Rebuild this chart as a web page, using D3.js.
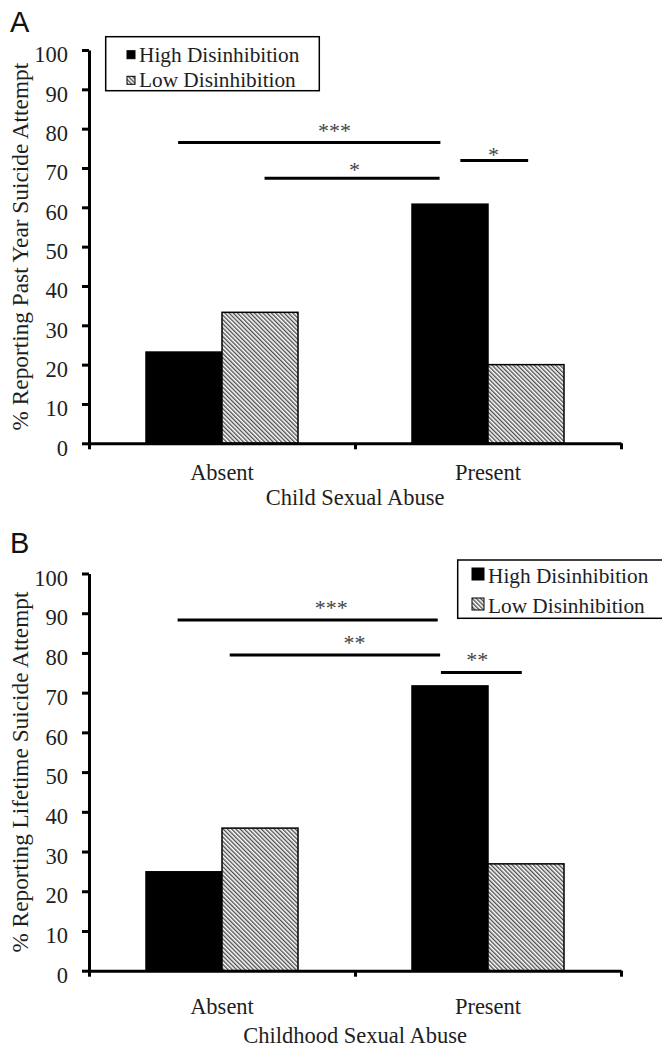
<!DOCTYPE html>
<html>
<head>
<meta charset="utf-8">
<script src="https://cdn.jsdelivr.net/npm/d3@7"></script>
<style>
  body { margin: 0; background: #fff; }
  text { font-family: "Liberation Serif", "Times New Roman", serif; fill: #1e1e1e; }
  .letter { font-family: "Liberation Sans", Arial, sans-serif; fill: #111; }
</style>
</head>
<body>
<div id="chart"></div>
<script>
"use strict";

// Categories, series and ticks.
var categories = ["Absent", "Present"];
var seriesNames = ["High Disinhibition", "Low Disinhibition"];
var yTicks = [0, 10, 20, 30, 40, 50, 60, 70, 80, 90, 100];

// Panel A: past year suicide attempt (%).
var pastYearHigh = [23.2, 60.8];
var pastYearLow = [33.3, 20.0];
// Panel B: lifetime suicide attempt (%).
var lifetimeHigh = [24.9, 71.7];
var lifetimeLow = [35.9, 26.9];

// Significance bars: from/to in category units (0..2 across the axis), at = % level.
var sigPastYear = [
    {from: 0.335, to: 1.321, at: 76.5, label: "***", lx: 0.923, ly: 80.2},
    {from: 0.660, to: 1.318, at: 67.4, label: "*", lx: 0.998, ly: 70.5},
    {from: 1.396, to: 1.651, at: 71.9, label: "*", lx: 1.521, ly: 74.1}
];
var sigLifetime = [
    {from: 0.333, to: 1.311, at: 88.3, label: "***", lx: 0.911, ly: 92.1},
    {from: 0.529, to: 1.320, at: 79.5, label: "**", lx: 0.998, ly: 83.3},
    {from: 1.323, to: 1.627, at: 75.1, label: "**", lx: 1.460, ly: 79.0}
];

var width = 662, height = 1047;
var left = 89, right = 621;
var serif = "'Liberation Serif', 'Times New Roman', serif";

var svg = d3.select("#chart").append("svg")
    .attr("width", width)
    .attr("height", height);

// Hatch pattern for the low disinhibition bars.
svg.append("defs").append("pattern")
    .attr("id", "hatch")
    .attr("patternUnits", "userSpaceOnUse")
    .attr("width", 3)
    .attr("height", 3)
    .attr("patternTransform", "rotate(-45)")
    .call(function (p) {
        p.append("rect").attr("width", 3).attr("height", 3).attr("fill", "#fff");
        p.append("line").attr("x1", 0.7).attr("y1", 0).attr("x2", 0.7).attr("y2", 3)
            .attr("stroke", "#444").attr("stroke-width", 1.3);
    });

var panels = [
    {
        letter: "A", letterY: 32, top: 50, bottom: 443.3,
        high: pastYearHigh, low: pastYearLow, sig: sigPastYear,
        yTitle: "% Reporting Past Year Suicide Attempt",
        xTitle: "Child Sexual Abuse", catDy: 37, titleDy: 62,
        legend: {x: 105.7, y: 36.7, w: 213.6, h: 54, sw: 8, tx: 139, rows: [61.7, 87.3]}
    },
    {
        letter: "B", letterY: 553, top: 573.5, bottom: 970.7,
        high: lifetimeHigh, low: lifetimeLow, sig: sigLifetime,
        yTitle: "% Reporting Lifetime Suicide Attempt",
        xTitle: "Childhood Sexual Abuse", catDy: 43, titleDy: 72,
        legend: {x: 457.7, y: 560, w: 210, h: 58.3, sw: 12, tx: 488, rows: [583, 613]}
    }
];

panels.forEach(function (p) {
    var g = svg.append("g");

    var y = d3.scaleLinear().domain([0, 100]).range([p.bottom, p.top]);
    var x0 = d3.scaleBand().domain(categories).range([left, right]).padding(0);
    var x1 = d3.scaleBand().domain(seriesNames).range([0, x0.bandwidth()])
        .paddingInner(0).paddingOuter(0.75);
    var xu = d3.scaleLinear().domain([0, 2]).range([left, right]);

    // Panel letter.
    g.append("text").attr("class", "letter")
        .attr("x", 10).attr("y", p.letterY)
        .attr("font-size", 29)
        .text(p.letter);

    // Bars.
    var rows = categories.map(function (c, i) {
        return [
            {cat: c, s: seriesNames[0], v: p.high[i]},
            {cat: c, s: seriesNames[1], v: p.low[i]}
        ];
    });
    g.append("g").selectAll("g")
        .data(rows)
        .enter().append("g")
        .attr("transform", function (d) { return "translate(" + x0(d[0].cat) + ",0)"; })
        .selectAll("rect")
        .data(function (d) { return d; })
        .enter().append("rect")
        .attr("x", function (d) { return x1(d.s); })
        .attr("width", x1.bandwidth())
        .attr("y", function (d) { return y(d.v); })
        .attr("height", function (d) { return y(0) - y(d.v); })
        .attr("fill", function (d) { return d.s === seriesNames[0] ? "#000" : "url(#hatch)"; })
        .attr("stroke", "#000")
        .attr("stroke-width", 1.5);

    // Y axis.
    var yAxis = g.append("g")
        .attr("transform", "translate(" + left + ",0)")
        .call(d3.axisLeft(y).tickValues(yTicks).tickSize(7).tickSizeOuter(0).tickPadding(14));
    yAxis.attr("font-family", null).attr("font-size", null);
    yAxis.selectAll("path, line").attr("stroke", "#000").attr("stroke-width", 3);
    yAxis.selectAll("text")
        .attr("fill", null)
        .style("font-size", "22.5px")
        .style("font-family", serif)
        .attr("dy", "0.52em");

    // X axis with ticks at category boundaries.
    var xAxis = g.append("g")
        .attr("transform", "translate(0," + p.bottom + ")")
        .call(d3.axisBottom(xu).tickValues([0, 1, 2]).tickSize(6).tickSizeOuter(0).tickFormat(""));
    xAxis.selectAll("path, line").attr("stroke", "#000").attr("stroke-width", 3);

    // Category labels.
    g.append("g").selectAll("text")
        .data(categories)
        .enter().append("text")
        .attr("x", function (d) { return x0(d) + x0.bandwidth() / 2; })
        .attr("y", p.bottom + p.catDy)
        .attr("text-anchor", "middle")
        .attr("font-size", 22.5)
        .text(function (d) { return d; });

    // Axis titles.
    g.append("text")
        .attr("x", (left + right) / 2)
        .attr("y", p.bottom + p.titleDy)
        .attr("text-anchor", "middle")
        .attr("font-size", 22.5)
        .text(p.xTitle);
    g.append("text")
        .attr("transform", "translate(28," + ((p.top + p.bottom) / 2) + ") rotate(-90)")
        .attr("text-anchor", "middle")
        .attr("font-size", 23.3)
        .text(p.yTitle);

    // Significance bars.
    g.append("g").selectAll("line")
        .data(p.sig)
        .enter().append("line")
        .attr("x1", function (d) { return xu(d.from); })
        .attr("x2", function (d) { return xu(d.to); })
        .attr("y1", function (d) { return y(d.at); })
        .attr("y2", function (d) { return y(d.at); })
        .attr("stroke", "#000")
        .attr("stroke-width", 3);
    g.append("g").selectAll("text")
        .data(p.sig)
        .enter().append("text")
        .attr("x", function (d) { return xu(d.lx); })
        .attr("y", function (d) { return y(d.ly) + 10.5; })
        .attr("text-anchor", "middle")
        .attr("font-size", 22)
        .style("fill", "#444")
        .text(function (d) { return d.label; });

    // Legend.
    var L = p.legend;
    var lg = g.append("g");
    lg.append("rect")
        .attr("x", L.x).attr("y", L.y).attr("width", L.w).attr("height", L.h)
        .attr("fill", "#fff").attr("stroke", "#000").attr("stroke-width", 1.5);
    seriesNames.forEach(function (s, i) {
        var base = L.rows[i];
        lg.append("rect")
            .attr("x", L.tx - L.sw - 4)
            .attr("y", base - L.sw - 3)
            .attr("width", L.sw).attr("height", L.sw)
            .attr("fill", i === 0 ? "#000" : "url(#hatch)")
            .attr("stroke", "#000").attr("stroke-width", 1);
        lg.append("text")
            .attr("x", L.tx).attr("y", base)
            .attr("font-size", 21.3)
            .text(s);
    });
});
</script>
</body>
</html>
